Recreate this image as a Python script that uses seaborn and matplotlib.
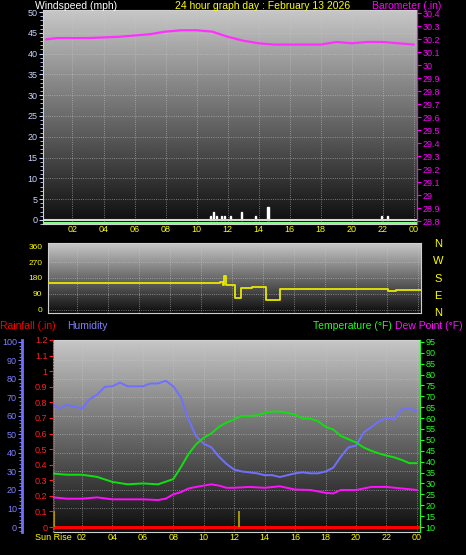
import numpy as np
import pandas as pd
import matplotlib
matplotlib.use("Agg")
import matplotlib.pyplot as plt
from matplotlib.ticker import MultipleLocator
import seaborn as sns

sns.set_style("dark")
plt.rcParams['font.family'] = ['Liberation Sans', 'DejaVu Sans']

# ---- data ----
baro_h = [0.3, 1, 2, 3, 4, 5, 6, 7, 8, 9, 10, 11, 12, 13, 14, 15, 16, 17, 18, 19, 20, 21, 22, 23, 24]
baro_v = [30.20, 30.21, 30.21, 30.21, 30.215, 30.22, 30.23, 30.24, 30.26, 30.27, 30.27, 30.26, 30.22,
          30.19, 30.17, 30.16, 30.16, 30.16, 30.16, 30.18, 30.17, 30.18, 30.18, 30.17, 30.16]
wind_h = [10.9, 11.1, 11.3, 11.6, 11.8, 12.2, 12.9, 13.8, 14.6, 21.9, 22.3]
wind_v = [1, 2, 1, 1, 1, 1, 2, 1, 3, 1, 1]
dir_h = [0.1, 10.8, 11.2, 11.4, 11.5, 11.6, 12.2, 12.6, 13.3, 14.2, 15.1, 22.1, 22.6, 24.2]
dir_v = [150, 150, 160, 140, 190, 140, 70, 125, 130, 55, 120, 105, 115, 115]
hum_h = [0.15, 0.5, 1, 1.5, 2, 2.5, 3, 3.5, 4, 4.5, 5, 5.5, 6, 6.5, 7, 7.5, 8, 8.5, 9, 9.5, 10, 10.5,
         11, 11.5, 12, 12.5, 13, 13.5, 14, 14.5, 15, 15.5, 16, 16.5, 17, 17.5, 18, 18.5, 19, 19.5, 20,
         20.5, 21, 21.5, 22, 22.5, 23, 23.5, 24]
hum_v = [66, 64, 66, 65, 64, 69, 71.5, 75.7, 76, 78, 76, 76, 76, 77.5, 77.5, 79, 76, 70, 58, 49, 45, 43,
         38, 34, 31, 30, 29.5, 29, 28, 28, 27, 28, 29, 29.5, 29, 29, 30, 32, 38, 43, 44,
         51, 54, 57, 59, 58, 63.5, 64, 62.5]
temp_h = [0.15, 1, 2, 3, 4, 5, 6, 7, 8, 8.5, 9, 9.5, 10, 10.5, 11, 11.5, 12, 12.5, 13, 13.5, 14, 14.5,
          15, 15.5, 16, 16.5, 17, 17.5, 18, 18.5, 19, 19.5, 20, 20.5, 21, 21.5, 22, 22.5, 23, 23.5, 24]
temp_v = [34.5, 34, 34, 33, 30.7, 29.6, 30, 29.6, 32, 37.5, 43.5, 48, 51, 53, 56, 58, 59.4, 61, 61, 61.3,
          62.4, 63, 63, 62.4, 61.6, 59.8, 59.8, 58.6, 56, 54.8, 51.8, 50.3, 48.8, 46.5, 45, 43.8, 42.8,
          42, 40.8, 39.3, 39.3]
dew_h = [0.15, 1, 2, 3, 4, 5, 6, 7, 7.5, 8, 8.5, 9, 9.5, 10, 10.5, 11, 11.5, 12, 13, 14, 15, 16, 17,
         18, 18.5, 19, 20, 21, 22, 23, 24]
dew_v = [23.6, 23, 23, 23.6, 22.7, 22.7, 22.7, 22.4, 23, 25, 26, 27.7, 28.4, 29, 29.6, 29, 28, 28, 28.4,
         28, 28.7, 27.2, 27, 25.7, 25.4, 27, 27, 28.4, 28.4, 27.7, 27]
rain_h = [0.1, 24.2]
rain_v = [0, 0]
marker_h = [0.15, 12.3]
marker_v = [0.1, 0.1]
xt_pos = [2, 4, 6, 8, 10, 12, 14, 16, 18, 20, 22, 24]
xt_lab = ["02", "04", "06", "08", "10", "12", "14", "16", "18", "20", "22", "00"]

W, H = 466, 555
fig = plt.figure(figsize=(W / 100, H / 100), dpi=100, facecolor="black")

def add_ax(l, t, r, b):
    return fig.add_axes([l / W, 1 - b / H, (r - l) / W, (b - t) / H])

grad = np.linspace(0.05, 0.78, 256).reshape(-1, 1)

def style(ax, xlim):
    ax.set_facecolor("black")
    ax.imshow(grad, extent=[0, 1, 0, 1], transform=ax.transAxes, cmap="gray",
              vmin=0, vmax=1, aspect="auto", origin="lower", zorder=0)
    ax.set_xlim(*xlim)
    ax.set_xticks(xt_pos)
    ax.grid(True, color="#c8c8c8", linestyle=":", linewidth=0.6, alpha=0.7)
    for s in ax.spines.values():
        s.set_color("#d0d0d0")
    ax.tick_params(labelsize=6.5, length=3, width=0.8, pad=1)
    ax.tick_params(axis="x", colors="#ffff00", length=0)

fs = 7.5
# ---- panel 1 ----
ax1 = add_ax(43, 10, 417, 224)
style(ax1, (0.1, 24.2))
ax1.set_ylim(-1, 50.5)
ax1.set_yticks(range(0, 51, 5))
ax1.yaxis.set_minor_locator(MultipleLocator(1))
ax1.tick_params(axis="y", colors="#c8d4ff", which="both")
ax1.tick_params(axis="y", which="minor", length=2)
ax1.set_xticklabels(xt_lab)
ax1.bar(wind_h, wind_v, width=0.08, color="white", zorder=3)
ax1.axhline(0, color="#d8d8d8", lw=1.5, zorder=3)
ax1.axhline(-0.85, color="#80ff80", lw=1.5, zorder=3)
ax1b = ax1.twinx()
ax1b.set_ylim(28.8 - 0.02, 30.4 + 0.026)
ax1b.set_yticks(np.round(np.arange(28.8, 30.41, 0.1), 1))
ax1b.set_yticklabels([f"{v:g}" for v in np.round(np.arange(28.8, 30.41, 0.1), 1)])
ax1b.tick_params(axis="y", colors="#ff00ff", labelsize=6.5, length=3, pad=1)
for s in ax1b.spines.values():
    s.set_visible(False)
ax1b.spines["right"].set_visible(True)
ax1b.spines["right"].set_color("#ff00ff")
sns.lineplot(x=baro_h, y=baro_v, ax=ax1b, color="#ff30ff", lw=1.6)
ax1b.grid(False)
fig.text(35 / W, 1 - 6 / H, "Windspeed (mph)", color="white", fontsize=fs, va="center")
fig.text(263 / W, 1 - 6 / H, "24 hour graph day : February 13 2026", color="#ffff00", fontsize=fs,
         va="center", ha="center")
fig.text(372 / W, 1 - 6 / H, "Barometer (.in)", color="#ff00ff", fontsize=fs, va="center")

# ---- panel 2 ----
ax2 = add_ax(48, 243, 421, 313)
style(ax2, (0.1, 24.2))
ax2.set_xticklabels([])
ax2.set_ylim(-17, 377)
ax2.set_yticks([0, 90, 180, 270, 360])
ax2.yaxis.set_minor_locator(MultipleLocator(22.5))
ax2.tick_params(axis="y", colors="#ffff00", labelsize=6, which="both")
ax2.tick_params(axis="y", which="minor", length=2)
ax2.step(dir_h, dir_v, where="post", color="#e8e800", lw=1.3, zorder=3)
for lab, yy in zip(["N", "W", "S", "E", "N"], [244, 261, 279, 296, 313]):
    fig.text(438 / W, 1 - yy / H, lab, color="#ffff00", fontsize=8, ha="center", va="center")

# ---- panel 3 ----
ax3 = add_ax(53, 340, 420, 532)
style(ax3, (0.1, 24.2))
ax3.set_ylim(-2.7, 101)
ax3.set_yticks(range(0, 101, 10))
ax3.yaxis.set_minor_locator(MultipleLocator(2))
ax3.spines["left"].set_position(("outward", 22))
ax3.spines["left"].set_color("#7070ff")
ax3.spines["left"].set_linewidth(2)
ax3.tick_params(axis="y", colors="#8080ff", which="both")
ax3.tick_params(axis="y", which="minor", length=2)
ax3.set_xticks([0.15] + xt_pos)
ax3.set_xticklabels(["Sun Rise"] + xt_lab)
sns.lineplot(x=hum_h, y=hum_v, ax=ax3, color="#7070ff", lw=1.4, zorder=4)

ax3r = ax3.twinx()
ax3r.set_ylim(-0.032, 1.2 * 101 / 101 + 0.0)
ax3r.yaxis.tick_left()
ax3r.set_yticks(np.round(np.arange(0, 1.21, 0.1), 1))
ax3r.set_yticklabels([f"{v:g}" for v in np.round(np.arange(0, 1.21, 0.1), 1)])
ax3r.tick_params(axis="y", colors="#ff2020", labelsize=6.5, length=3, pad=1)
for s in ax3r.spines.values():
    s.set_visible(False)
ax3r.spines["left"].set_visible(True)
ax3r.spines["left"].set_color("#ff2020")
ax3r.spines["left"].set_linestyle(":")
sns.lineplot(x=rain_h, y=rain_v, ax=ax3r, color="#ff0000", lw=2.2)
ax3r.vlines(marker_h, 0, marker_v, color="#b0a000", lw=1.3)
ax3r.grid(False)

ax3t = ax3.twinx()
ax3t.set_ylim(10 - 0.027 * 85 / 1.0, 95 + 0.01 * 85)
ax3t.set_yticks(range(10, 96, 5))
ax3t.tick_params(axis="y", colors="#20ff20", labelsize=6.5, length=3, pad=1)
for s in ax3t.spines.values():
    s.set_visible(False)
ax3t.spines["right"].set_visible(True)
ax3t.spines["right"].set_color("#20ff20")
sns.lineplot(x=temp_h, y=temp_v, ax=ax3t, color="#10e010", lw=1.4)
sns.lineplot(x=dew_h, y=dew_v, ax=ax3t, color="#ff10ff", lw=1.4)
ax3t.grid(False)

fig.text(0, 1 - 326 / H, "Rainfall (.in)", color="#ff0000", fontsize=fs, va="center")
fig.text(67 / W, 1 - 326 / H, "Humidity", color="#8080ff", fontsize=fs, va="center")
fig.text(313 / W, 1 - 326 / H, "Temperature (°F)", color="#20ff20", fontsize=fs, va="center")
fig.text(395 / W, 1 - 326 / H, "Dew Point (°F)", color="#ff10ff", fontsize=fs, va="center")

fig.savefig("out.png", dpi=100, facecolor="black")
